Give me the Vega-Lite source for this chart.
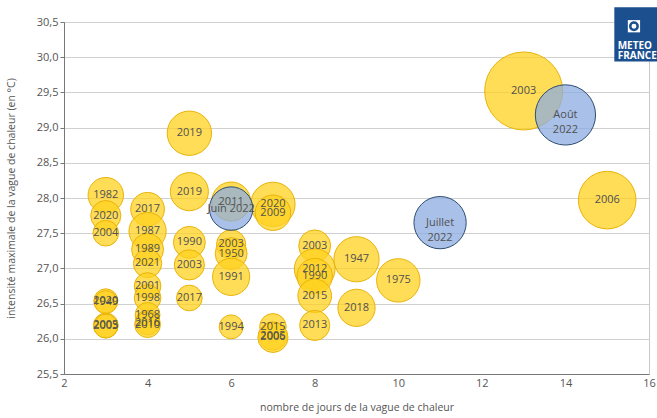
{
  "$schema": "https://vega.github.io/schema/vega-lite/v6.json",
  "width": 585,
  "height": 352,
  "autosize": "none",
  "padding": {"left": 64, "top": 22, "right": 8, "bottom": 44},
  "config": {
    "font": "Open Sans",
    "view": {"stroke": "#c8c8c8", "strokeWidth": 1},
    "axis": {"labelColor": "#555", "titleColor": "#555", "labelFont": "Open Sans", "titleFont": "Open Sans", "labelFontSize": 11, "titleFontSize": 10.5, "titleFontWeight": "normal", "domainColor": "#777", "tickColor": "#777"}
  },
  "datasets": {
    "vagues": [
      {"jours": 3, "intensite": 28.04, "severite": 40, "label": "1982", "type": "historique"},
      {"jours": 3, "intensite": 27.75, "severite": 28.9, "label": "2020", "type": "historique"},
      {"jours": 3, "intensite": 27.5, "severite": 21, "label": "2004", "type": "historique"},
      {"jours": 3, "intensite": 26.54, "severite": 18.2, "label": "2020", "type": "historique"},
      {"jours": 3, "intensite": 26.52, "severite": 16.9, "label": "1949", "type": "historique"},
      {"jours": 3, "intensite": 26.19, "severite": 19.6, "label": "2005", "type": "historique"},
      {"jours": 3, "intensite": 26.18, "severite": 18.2, "label": "2003", "type": "historique"},
      {"jours": 4, "intensite": 27.84, "severite": 36.1, "label": "2017", "type": "historique"},
      {"jours": 4, "intensite": 27.53, "severite": 44.1, "label": "1987", "type": "historique"},
      {"jours": 4, "intensite": 27.27, "severite": 32.4, "label": "1989", "type": "historique"},
      {"jours": 4, "intensite": 27.07, "severite": 25.6, "label": "2021", "type": "historique"},
      {"jours": 4, "intensite": 26.75, "severite": 22.5, "label": "2001", "type": "historique"},
      {"jours": 4, "intensite": 26.58, "severite": 22.5, "label": "1998", "type": "historique"},
      {"jours": 4, "intensite": 26.34, "severite": 19.6, "label": "1968", "type": "historique"},
      {"jours": 4, "intensite": 26.23, "severite": 19.6, "label": "2016", "type": "historique"},
      {"jours": 4, "intensite": 26.2, "severite": 21, "label": "2010", "type": "historique"},
      {"jours": 5, "intensite": 28.92, "severite": 62.5, "label": "2019", "type": "historique"},
      {"jours": 5, "intensite": 28.09, "severite": 46.2, "label": "2019", "type": "historique"},
      {"jours": 5, "intensite": 27.37, "severite": 32.4, "label": "1990", "type": "historique"},
      {"jours": 5, "intensite": 27.05, "severite": 28.9, "label": "2003", "type": "historique"},
      {"jours": 5, "intensite": 26.58, "severite": 21, "label": "2017", "type": "historique"},
      {"jours": 6, "intensite": 27.95, "severite": 48.4, "label": "2011", "type": "historique"},
      {"jours": 6, "intensite": 27.34, "severite": 27.2, "label": "2003", "type": "historique"},
      {"jours": 6, "intensite": 27.21, "severite": 32.4, "label": "1950", "type": "historique"},
      {"jours": 6, "intensite": 26.88, "severite": 44.1, "label": "1991", "type": "historique"},
      {"jours": 6, "intensite": 26.17, "severite": 18.2, "label": "1994", "type": "historique"},
      {"jours": 7, "intensite": 27.91, "severite": 62.5, "label": "2020", "type": "historique"},
      {"jours": 7, "intensite": 27.79, "severite": 40, "label": "2009", "type": "historique"},
      {"jours": 7, "intensite": 26.17, "severite": 22.5, "label": "2015", "type": "historique"},
      {"jours": 7, "intensite": 26.04, "severite": 25.6, "label": "2005", "type": "historique"},
      {"jours": 7, "intensite": 26.02, "severite": 28.9, "label": "2006", "type": "historique"},
      {"jours": 8, "intensite": 27.32, "severite": 32.4, "label": "2003", "type": "historique"},
      {"jours": 8, "intensite": 26.99, "severite": 52.9, "label": "2012", "type": "historique"},
      {"jours": 8, "intensite": 26.89, "severite": 40, "label": "1990", "type": "historique"},
      {"jours": 8, "intensite": 26.61, "severite": 36.1, "label": "2015", "type": "historique"},
      {"jours": 8, "intensite": 26.19, "severite": 28.9, "label": "2013", "type": "historique"},
      {"jours": 9, "intensite": 27.13, "severite": 65, "label": "1947", "type": "historique"},
      {"jours": 9, "intensite": 26.44, "severite": 44.1, "label": "2018", "type": "historique"},
      {"jours": 10, "intensite": 26.83, "severite": 60, "label": "1975", "type": "historique"},
      {"jours": 13, "intensite": 29.52, "severite": 193.6, "label": "2003", "type": "historique"},
      {"jours": 15, "intensite": 27.97, "severite": 105.6, "label": "2006", "type": "historique"},
      {"jours": 6, "intensite": 27.85, "severite": 60, "label": "Juin 2022", "type": "2022"},
      {"jours": 11, "intensite": 27.65, "severite": 87, "label": "Juillet\n2022", "type": "2022"},
      {"jours": 14, "intensite": 29.18, "severite": 115.6, "label": "Août\n2022", "type": "2022"}
    ],
    "logo": [{"nom": "METEO\nFRANCE"}]
  },
  "layer": [
    {
      "data": {"name": "vagues"},
      "mark": {"type": "point", "filled": true, "fillOpacity": 0.75, "strokeWidth": 1, "strokeOpacity": 1},
      "encoding": {
        "x": {"field": "jours", "type": "quantitative", "scale": {"domain": [2, 16], "nice": false}, "axis": {"values": [2, 4, 6, 8, 10, 12, 14, 16], "grid": false, "ticks": false, "labelPadding": 3, "title": "nombre de jours de la vague de chaleur", "titlePadding": 14, "labelFlush": false}},
        "y": {"field": "intensite", "type": "quantitative", "scale": {"domain": [25.5, 30.5], "nice": false, "zero": false}, "axis": {"tickCount": 10, "labelOverlap": false, "labelExpr": "replace(format(datum.value, '.1f'), '.', ',')", "grid": true, "gridColor": "#d0d0d0", "tickSize": 4, "labelPadding": 2, "labelFlush": false, "title": "intensité maximale de la vague de chaleur (en °C)", "titlePadding": 20}},
        "size": {"field": "severite", "type": "quantitative", "scale": {"type": "linear", "zero": true, "domain": [0, 200], "range": [0, 6283]}, "legend": null},
        "color": {"field": "type", "type": "nominal", "scale": {"domain": ["historique", "2022"], "range": ["#FFD21F", "#8CACE0"]}, "legend": null},
        "stroke": {"field": "type", "type": "nominal", "scale": {"domain": ["historique", "2022"], "range": ["#E9B308", "#2E4D70"]}, "legend": null},
        "order": {"field": "type", "sort": "descending"}
      }
    },
    {
      "data": {"name": "vagues"},
      "mark": {"type": "text", "font": "Open Sans", "fontSize": 11, "color": "#505050", "baseline": "middle", "align": "center", "lineBreak": "\n", "lineHeight": 15},
      "encoding": {
        "x": {"field": "jours", "type": "quantitative"},
        "y": {"field": "intensite", "type": "quantitative"},
        "text": {"field": "label"}
      }
    },
    {
      "data": {"name": "logo"},
      "mark": {"type": "rect", "color": "#1B4F8E", "clip": false},
      "encoding": {
        "x": {"datum": 15.17},
        "x2": {"datum": 16.4},
        "y": {"datum": 30.71},
        "y2": {"datum": 29.94}
      }
    },
    {
      "data": {"name": "logo"},
      "mark": {"type": "point", "shape": "square", "filled": true, "color": "white", "size": 150, "opacity": 1},
      "encoding": {
        "x": {"datum": 15.64},
        "y": {"datum": 30.44}
      }
    },
    {
      "data": {"name": "logo"},
      "mark": {"type": "point", "shape": "circle", "filled": false, "color": "#1B4F8E", "size": 55, "strokeWidth": 2.5, "opacity": 1},
      "encoding": {
        "x": {"datum": 15.64},
        "y": {"datum": 30.44}
      }
    },
    {
      "data": {"name": "logo"},
      "mark": {"type": "text", "font": "Open Sans", "fontWeight": "bold", "fontSize": 10, "color": "white", "align": "left", "baseline": "middle", "lineBreak": "\n", "lineHeight": 10},
      "encoding": {
        "x": {"datum": 15.25},
        "y": {"datum": 30.16},
        "text": {"field": "nom"}
      }
    }
  ]
}
